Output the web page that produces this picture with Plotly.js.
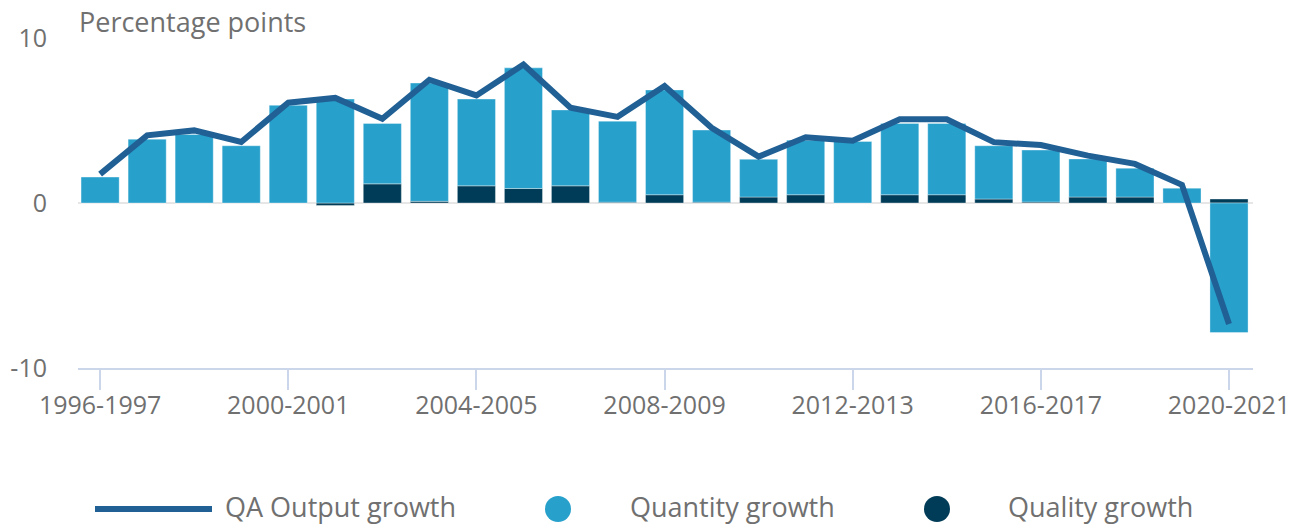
<!DOCTYPE html>
<html>
<head>
<meta charset="utf-8">
<script src="https://cdn.plot.ly/plotly-3.0.1.min.js"></script>
<style>html,body{margin:0;padding:0;background:#fff;}#chart{width:1298px;height:528px;}</style>
</head>
<body>
<div id="chart"></div>
<script>
const categories = ["1996-1997","1997-1998","1998-1999","1999-2000","2000-2001","2001-2002","2002-2003","2003-2004","2004-2005","2005-2006","2006-2007","2007-2008","2008-2009","2009-2010","2010-2011","2011-2012","2012-2013","2013-2014","2014-2015","2015-2016","2016-2017","2017-2018","2018-2019","2019-2020","2020-2021"];
const qualityGrowth = [0, 0, 0, 0, 0, -0.15, 1.16, 0.1, 1.04, 0.88, 1.04, 0.05, 0.5, 0.05, 0.36, 0.5, 0, 0.5, 0.5, 0.24, 0.06, 0.36, 0.36, 0, 0.24];
const quantityGrowth = [1.57, 3.87, 4.15, 3.47, 5.92, 6.30, 3.66, 7.17, 5.26, 7.31, 4.60, 4.91, 6.35, 4.37, 2.29, 3.31, 3.73, 4.32, 4.32, 3.23, 3.15, 2.31, 1.75, 0.90, -7.85];
const qaOutputGrowth = [1.75, 4.1, 4.4, 3.7, 6.08, 6.37, 5.1, 7.47, 6.52, 8.39, 5.78, 5.22, 7.09, 4.56, 2.81, 3.98, 3.78, 5.08, 5.08, 3.69, 3.51, 2.87, 2.37, 1.1, -7.33];
const xTickLabels = ["1996-1997","2000-2001","2004-2005","2008-2009","2012-2013","2016-2017","2020-2021"];
const yTickValues = [-10, 0, 10];
const seriesNames = ["QA Output growth", "Quantity growth", "Quality growth"];

const colLine = "#206095", colQuantity = "#27a0cc", colQuality = "#003c57";
const textColor = "#707070";
const FONT = "'Open Sans', sans-serif";

// plot area in pixels
const L = 78, R = 1253, T = 38, B = 368;
const W = 1298, H = 528;
const px = x => (x - L) / (R - L);
const py = y => (B - y) / (B - T);

const traces = [
  {type: "bar", name: seriesNames[2], x: categories, y: qualityGrowth,
   marker: {color: colQuality, line: {color: "rgba(255,255,255,0.35)", width: 1}},
   showlegend: false, hoverinfo: "x+y+name"},
  {type: "bar", name: seriesNames[1], x: categories, y: quantityGrowth,
   marker: {color: colQuantity, line: {color: "rgba(255,255,255,0.35)", width: 1}},
   showlegend: false, hoverinfo: "x+y+name"},
  {type: "scatter", mode: "lines", name: seriesNames[0], x: categories, y: qaOutputGrowth,
   line: {color: colLine, width: 6, shape: "linear"}, showlegend: false}
];

const legendY = 509;
const legendTextY = 506;
const shapes = [
  {type: "line", xref: "paper", yref: "paper", x0: px(95), x1: px(212), y0: py(legendY), y1: py(legendY),
   line: {color: colLine, width: 6}},
  {type: "circle", xref: "paper", yref: "paper", x0: px(545), x1: px(571), y0: py(legendY - 13), y1: py(legendY + 13),
   fillcolor: colQuantity, line: {width: 0}},
  {type: "circle", xref: "paper", yref: "paper", x0: px(924), x1: px(950), y0: py(legendY - 13), y1: py(legendY + 13),
   fillcolor: colQuality, line: {width: 0}}
];

const annotations = [
  {xref: "paper", yref: "paper", x: px(77), y: py(22), xanchor: "left", yanchor: "middle",
   text: "Percentage points", showarrow: false, font: {family: FONT, size: 27, color: textColor}},
  {xref: "paper", yref: "paper", x: px(223), y: py(legendTextY), xanchor: "left", yanchor: "middle",
   text: seriesNames[0], showarrow: false, font: {family: FONT, size: 27, color: textColor}},
  {xref: "paper", yref: "paper", x: px(628), y: py(legendTextY), xanchor: "left", yanchor: "middle",
   text: seriesNames[1], showarrow: false, font: {family: FONT, size: 27, color: textColor}},
  {xref: "paper", yref: "paper", x: px(1006), y: py(legendTextY), xanchor: "left", yanchor: "middle",
   text: seriesNames[2], showarrow: false, font: {family: FONT, size: 27, color: textColor}}
];

const layout = {
  width: W, height: H,
  margin: {l: L, r: W - R, t: T, b: H - B, pad: 0},
  paper_bgcolor: "#fff", plot_bgcolor: "#fff",
  font: {family: FONT, size: 24, color: textColor},
  barmode: "relative", bargap: 0.19,
  showlegend: false,
  xaxis: {
    type: "category", range: [-0.47, 24.51],
    tickmode: "array", tickvals: xTickLabels, ticktext: xTickLabels,
    ticks: "outside", ticklen: 20, tickwidth: 2, tickcolor: "#ccd6eb",
    ticklabelstandoff: -6,
    showline: true, linecolor: "#ccd6eb", linewidth: 2,
    showgrid: false, zeroline: false,
    tickfont: {family: FONT, size: 25, color: textColor},
    fixedrange: true
  },
  yaxis: {
    range: [-10, 10], tickmode: "array", tickvals: yTickValues, ticktext: yTickValues.map(String),
    showgrid: true, gridcolor: "#e6e6e6", gridwidth: 2,
    zeroline: true, zerolinecolor: "#e6e6e6", zerolinewidth: 2,
    showline: false, ticks: "", ticklabelstandoff: 30,
    tickfont: {family: FONT, size: 25, color: textColor},
    fixedrange: true
  },
  shapes: shapes,
  annotations: annotations
};

Plotly.newPlot("chart", traces, layout, {displayModeBar: false, staticPlot: true});
</script>
</body>
</html>
